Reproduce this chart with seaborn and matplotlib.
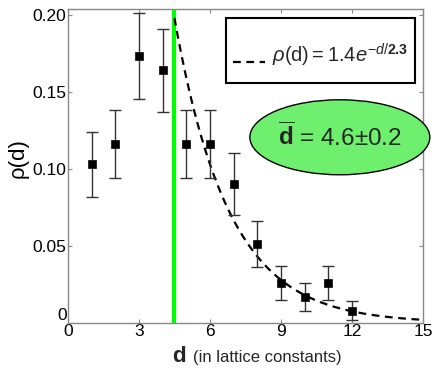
import numpy as np
import pandas as pd
import matplotlib
matplotlib.use("Agg")
import matplotlib.pyplot as plt
from matplotlib.patches import Ellipse, Rectangle
import seaborn as sns

# data
d_vals = [1, 2, 3, 4, 5, 6, 7, 8, 9, 10, 11, 12]
rho_vals = [0.103, 0.116, 0.173, 0.164, 0.116, 0.116, 0.090, 0.051, 0.026, 0.017, 0.026, 0.008]
rho_err = [0.021, 0.022, 0.028, 0.027, 0.022, 0.022, 0.020, 0.015, 0.011, 0.009, 0.011, 0.006]
fit_amp = 1.4
fit_len = 2.3
d_mean_line = 4.5
x_ticks = [0, 3, 6, 9, 12, 15]
y_ticks = [0, 0.05, 0.10, 0.15, 0.20]
y_ticklabels = ["0", "0.05", "0.10", "0.15", "0.20"]

sns.set_style("white")
plt.rcParams['font.family'] = ['Liberation Sans', 'DejaVu Sans']
plt.rcParams['mathtext.fontset'] = 'custom'
plt.rcParams['mathtext.rm'] = 'Liberation Sans'
plt.rcParams['mathtext.it'] = 'Liberation Sans:italic'
plt.rcParams['mathtext.bf'] = 'Liberation Sans:bold'

fig = plt.figure(figsize=(4.41, 3.78), dpi=100)
ax = fig.add_axes([0.154, 0.1455, 0.805, 0.83])

df = pd.DataFrame({"d": d_vals, "rho": rho_vals, "err": rho_err})

# fit curve
xf = np.linspace(d_mean_line, 15, 300)
fit_df = pd.DataFrame({"d": xf, "rho": fit_amp * np.exp(-xf / fit_len)})
dash = (0, (3.5, 2.5))
sns.lineplot(data=fit_df, x="d", y="rho", ax=ax, color="black",
             linestyle=dash, linewidth=1.6, zorder=3)

ax.axvline(d_mean_line, color="#00ff00", linewidth=3.0, zorder=2)

ax.errorbar(df["d"], df["rho"], yerr=df["err"], fmt="none", ecolor="#333333",
            elinewidth=1.0, capsize=4, capthick=1.0, zorder=4)
sns.scatterplot(data=df, x="d", y="rho", ax=ax, marker="s", s=36, color="black",
                edgecolor="black", zorder=5)

ax.set_xlim(0, 15)
ax.set_ylim(0, 0.2035)
ax.set_xticks(x_ticks)
ax.set_xticklabels([str(t) for t in x_ticks], fontsize=12.5)
ax.set_yticks(y_ticks)
ax.set_yticklabels(y_ticklabels, fontsize=12.5)
ax.tick_params(direction="in", length=3, color="#888888", top=True, right=True,
               bottom=True, left=True, pad=1, labelcolor="black")
ax.get_yticklabels()[0].set_va("bottom")
for s in ax.spines.values():
    s.set_color("#888888")
    s.set_linewidth(1.0)
    s.set_visible(True)

ax.set_xlabel("")
ax.set_ylabel("")
fig.text(18 / 441, 1 - 158 / 378, "ρ(d)", fontsize=16, rotation=90,
         ha="center", va="center", color="black")
fig.text(172 / 441, 1 - 362 / 378, "d", fontsize=16, fontweight="bold",
         ha="left", va="baseline")
fig.text(193 / 441, 1 - 362 / 378, "(in lattice constants)", fontsize=12,
         ha="left", va="baseline")

# legend box (drawn manually to match the original layout)
ax.add_patch(Rectangle((0.445, 0.764), 0.532, 0.207, transform=ax.transAxes,
                       facecolor="white", edgecolor="black", linewidth=1.5, zorder=6))
ax.plot([0.465, 0.555], [0.832, 0.832], transform=ax.transAxes, color="black",
        linestyle=dash, linewidth=1.6, zorder=7)
ax.text(0.574, 0.83, r"$\rho$(d)$=$1.4$e^{-d/\mathbf{2.3}}$", transform=ax.transAxes,
        fontsize=14.5, ha="left", va="baseline", zorder=7)

ell = Ellipse((0.766, 0.592), width=0.507, height=0.239, transform=ax.transAxes,
              facecolor="#6ef06e", edgecolor="black", linewidth=1.0, clip_on=False, zorder=6)
ax.add_patch(ell)
ax.text(0.766, 0.592, r"$\overline{\mathbf{d}}$ = 4.6±0.2", transform=ax.transAxes,
        ha="center", va="center", fontsize=17.5, zorder=7)

fig.savefig("out.png", dpi=100)
